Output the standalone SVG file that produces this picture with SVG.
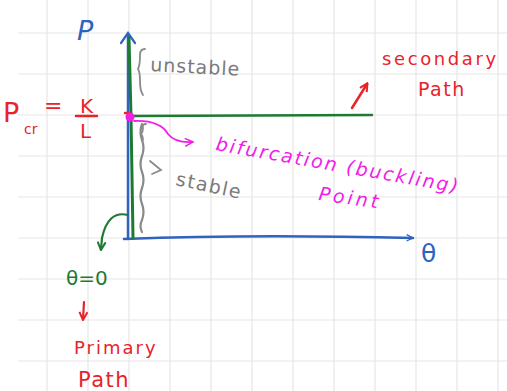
<svg xmlns="http://www.w3.org/2000/svg" width="507" height="391" viewBox="0 0 507 391">
<style>
.g{stroke:#e6e6e6;stroke-width:1.2}
.t{font-family:"DejaVu Sans","Liberation Sans",sans-serif}
.red{fill:#e8232a}
.blue{fill:#2f63c0}
.gray{fill:#7a7a7a}
.mag{fill:#f01ee8}
.grn{fill:#1e7a32}
</style>
<defs>
<marker id="ob" viewBox="0 0 10 10" refX="9" refY="5" markerWidth="8" markerHeight="8" orient="auto" markerUnits="userSpaceOnUse"><path d="M1,1 L9,5 L1,9" fill="none" stroke="#2f63c0" stroke-width="1.6"/></marker>
<marker id="ar" viewBox="0 0 10 10" refX="8" refY="5" markerWidth="10" markerHeight="10" orient="auto" markerUnits="userSpaceOnUse"><path d="M1,1 L9,5 L1,9" fill="none" stroke="#e8232a" stroke-width="2"/></marker>
<marker id="am" viewBox="0 0 10 10" refX="8" refY="5" markerWidth="10" markerHeight="10" orient="auto" markerUnits="userSpaceOnUse"><path d="M1,1 L9,5 L1,9" fill="none" stroke="#f01ee8" stroke-width="1.5"/></marker>
<marker id="ag" viewBox="0 0 10 10" refX="8" refY="5" markerWidth="10" markerHeight="10" orient="auto" markerUnits="userSpaceOnUse"><path d="M1,1 L9,5 L1,9" fill="none" stroke="#1e7a32" stroke-width="2"/></marker>
</defs>
<rect width="507" height="391" fill="#fff"/>
<g id="grid">
<path class="g" d="M47,0V391M88,0V391M129,0V391M170,0V391M211,0V391M252,0V391M293,0V391M334,0V391M375,0V391M416,0V391M457,0V391M498,0V391"/>
<path class="g" d="M18,33H507M18,74H507M18,115H507M18,156H507M18,197H507M18,238H507M18,279H507M18,320H507M18,361H507"/>
</g>
<g id="connectors" fill="none" stroke-linecap="round">
<path d="M128,239 L128,34" stroke="#2f63c0" stroke-width="2.5"/>
<path d="M121,43 L128,33 L135,43" stroke="#2f63c0" stroke-width="2.2"/>
<path d="M124,239 Q250,234 413,238" stroke="#2f63c0" stroke-width="2.5" marker-end="url(#ob)"/>
<path d="M129,38 L131,116 L133,238" stroke="#1e7a32" stroke-width="3"/>
<path d="M131,116 L372,115" stroke="#1e7a32" stroke-width="2.5"/>
<path d="M125,113 L131,113" stroke="#e8232a" stroke-width="2.5"/>
<path d="M142,124 q-3,8 0,16 q3,8 0,16 q-3,8 0,16 q3,8 0,16 q-3,8 0,16 q3,8 0,16 q-3,6 0,12" stroke="#8a8a8a" stroke-width="2.2"/>
<path d="M145,49 q-5,0 -5,6 q0,10 -2,14 q2,3 2,12 q0,10 3,14" stroke="#8a8a8a" stroke-width="1.8"/>
<path d="M146,124 q-4,0 -3,4 q0,4 -2,6 q2,2 2,6" stroke="#8a8a8a" stroke-width="1.8"/>
<path d="M150,161 L161,170 L152,174" stroke="#8a8a8a" stroke-width="1.8"/>
<path d="M134,121 Q160,120 168,134 Q175,143 192,142" stroke="#f01ee8" stroke-width="1.8" marker-end="url(#am)"/>
<path d="M352,108 L367,84" stroke="#e8232a" stroke-width="2.5" marker-end="url(#ar)"/>
<path d="M128,215 Q108,210 102,238 L101,249" stroke="#1e7a32" stroke-width="2.2" marker-end="url(#ag)"/>
<path d="M84,302 L83,319" stroke="#e8232a" stroke-width="2.2" marker-end="url(#ar)"/>
<path d="M76,116 L97,116" stroke="#e8232a" stroke-width="2.5"/>
</g>
<circle id="bifurcation-dot" cx="130" cy="117" r="4.5" fill="#f01ee8"/>
<g id="axis-P"><text class="t blue" x="77" y="40" font-size="27" font-style="italic">P</text></g>
<g id="axis-theta"><text class="t blue" x="421" y="262" font-size="25">θ</text></g>
<g id="pcr">
<text class="t red" x="3" y="122" font-size="27">P</text>
<text class="t red" x="24" y="134" font-size="14">cr</text>
<text class="t red" x="44" y="113" font-size="22">=</text>
<text class="t red" x="80" y="113" font-size="20">K</text>
<text class="t red" x="80" y="138" font-size="20">L</text>
</g>
<g id="unstable"><text class="t gray" x="150" y="71" font-size="19" letter-spacing="1" transform="rotate(3 150 71)">unstable</text></g>
<g id="stable"><text class="t gray" x="175" y="185" font-size="19" letter-spacing="1.5" transform="rotate(12 175 185)">stable</text></g>
<g id="bifurcation">
<text class="t mag" x="215" y="150" font-size="19" letter-spacing="2" font-style="italic" transform="rotate(10 215 150)">bifurcation (buckling)</text>
<text class="t mag" x="318" y="200" font-size="19" letter-spacing="3" font-style="italic" transform="rotate(8 318 200)">Point</text>
</g>
<g id="secondary">
<text class="t red" x="382" y="65" font-size="18" letter-spacing="2.6">secondary</text>
<text class="t red" x="418" y="96" font-size="19" letter-spacing="1.5">Path</text>
</g>
<g id="theta0"><text class="t grn" x="66" y="285" font-size="20">θ=0</text></g>
<g id="primary">
<text class="t red" x="74" y="354" font-size="18" letter-spacing="2">Primary</text>
<text class="t red" x="78" y="387" font-size="21" letter-spacing="1.5">Path</text>
</g>
</svg>
